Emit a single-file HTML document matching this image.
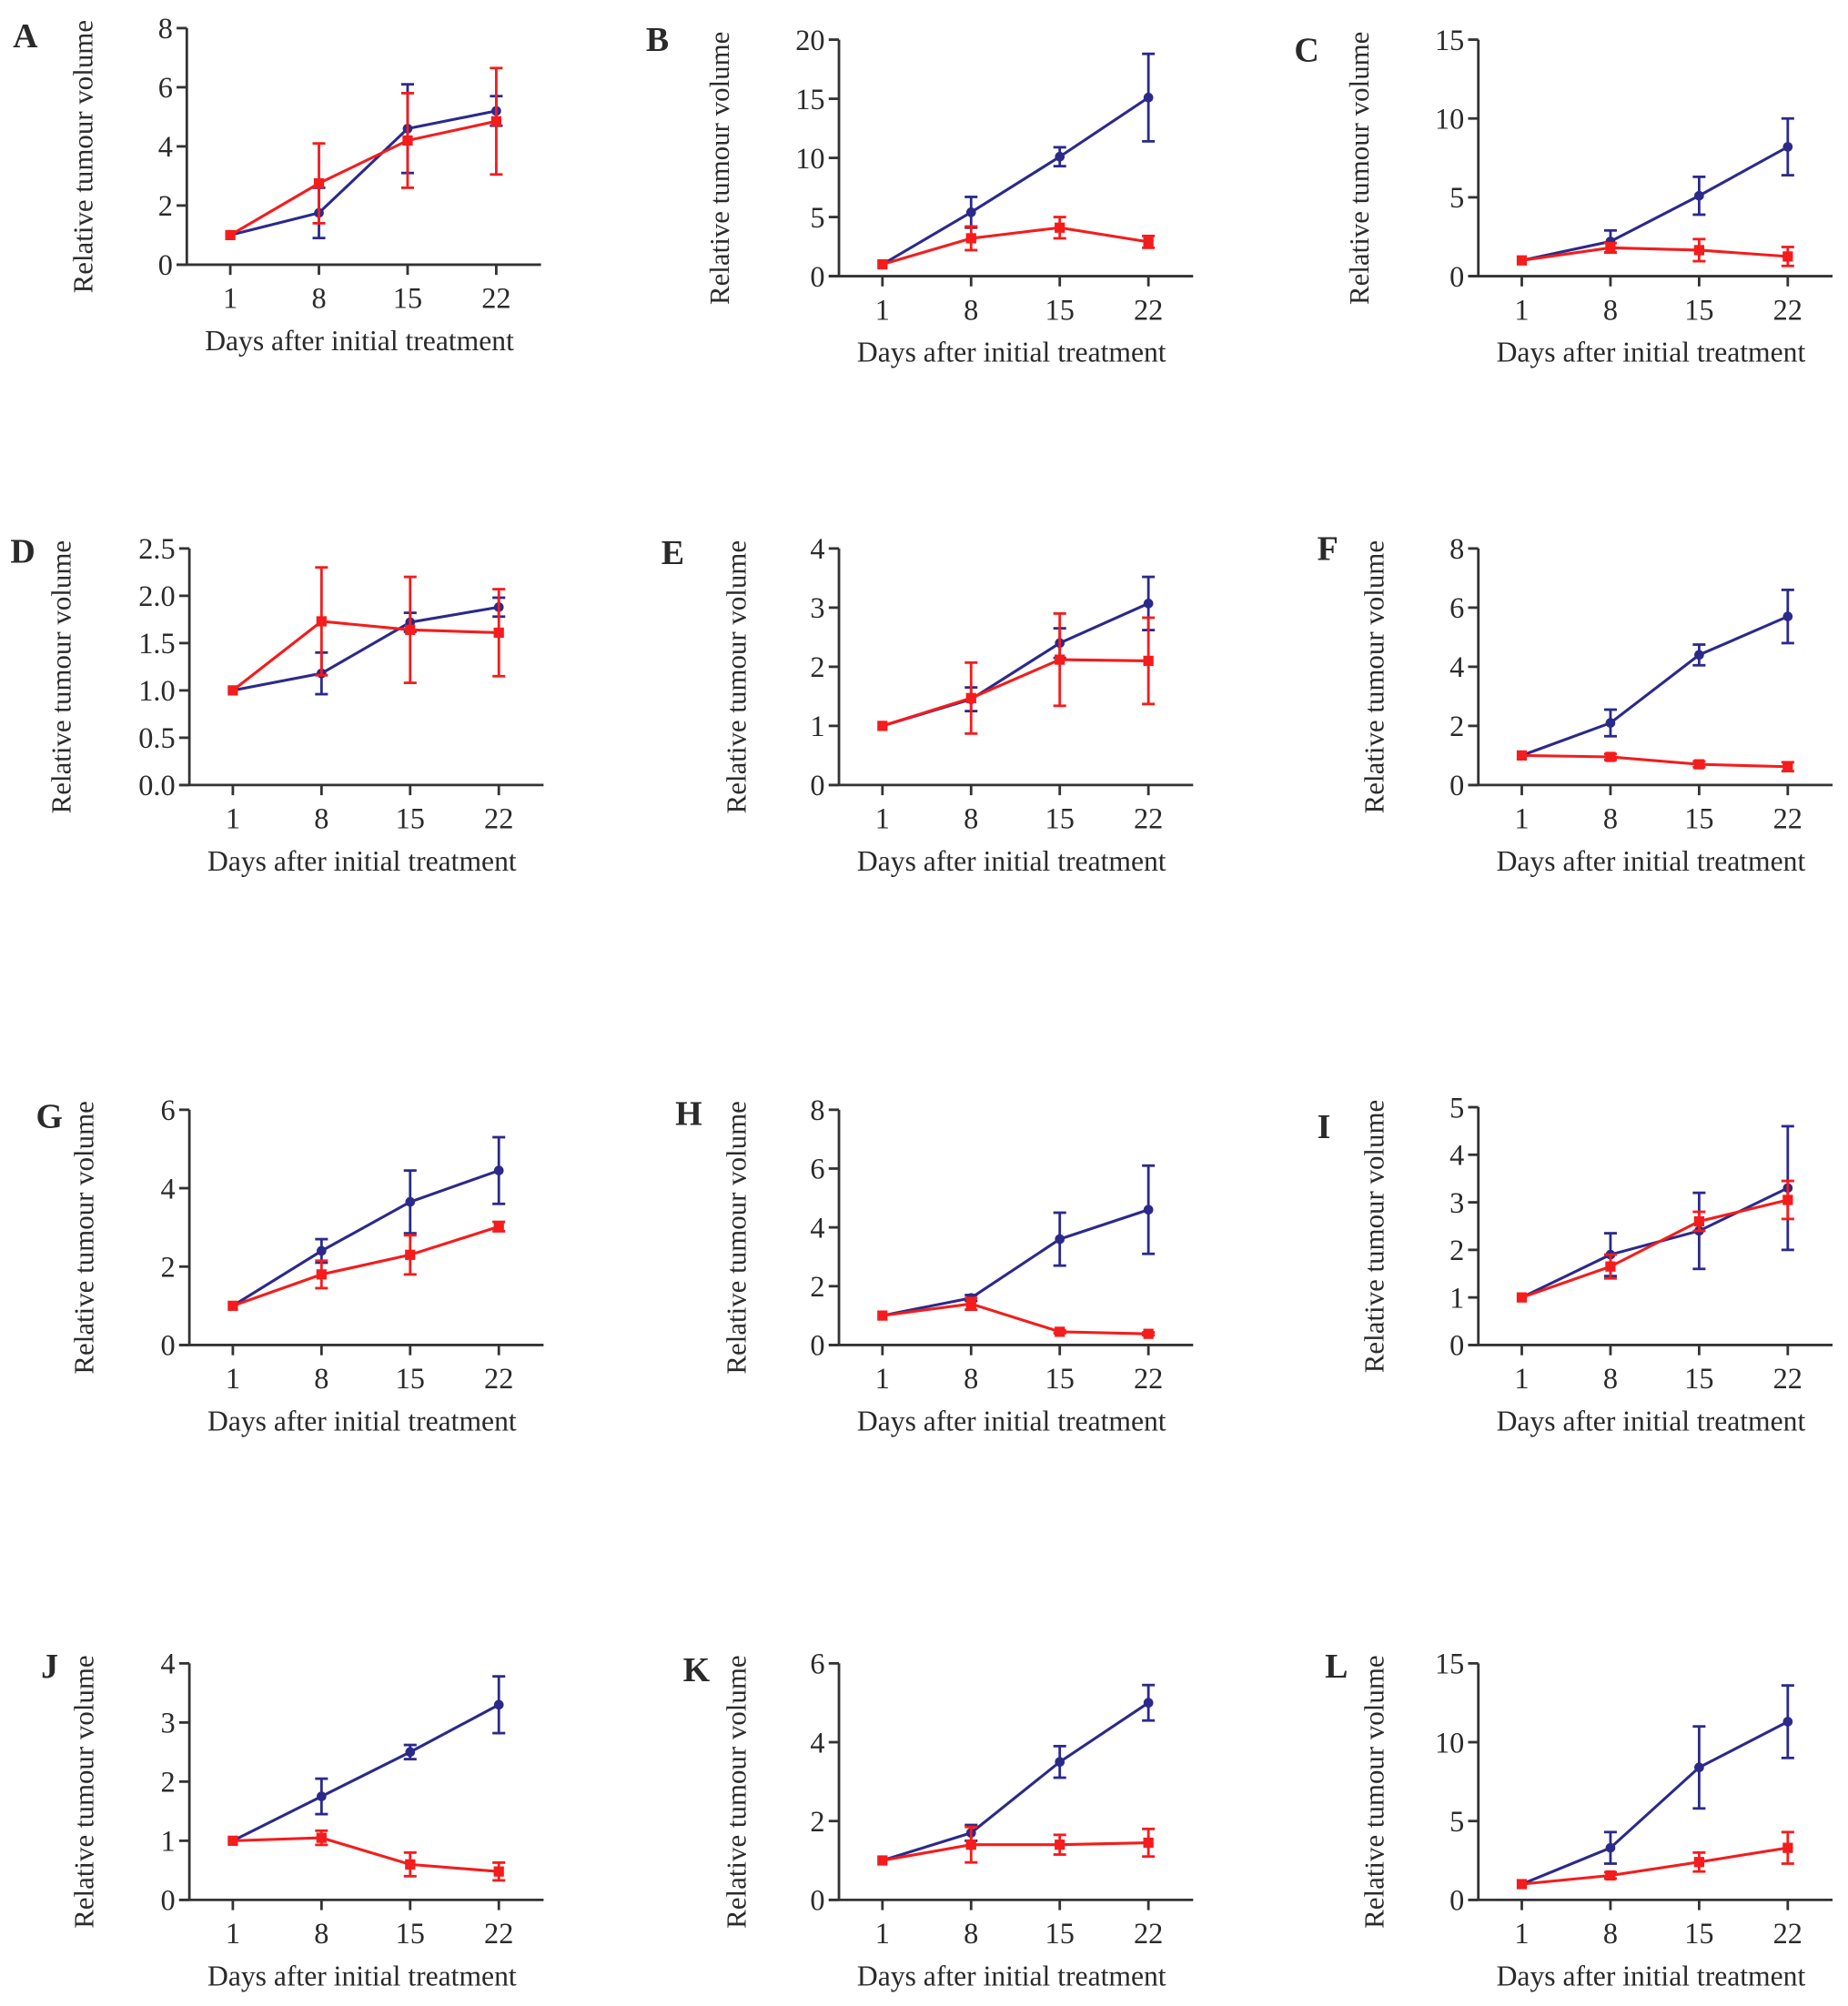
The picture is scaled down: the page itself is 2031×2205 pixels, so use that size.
<!DOCTYPE html>
<html><head><meta charset="utf-8"><style>
html,body{margin:0;padding:0;background:#fff;}
svg{display:block;}
text{font-family:"Liberation Serif",serif;fill:#2a2a2a;}
</style></head><body>
<svg id="fig" width="2031" height="2205" viewBox="0 0 1445 1569"></svg>
<script>
const days=[1,8,15,22];
const dayLabels=["1","8","15","22"];
const panelNames=["A","B","C","D","E","F","G","H","I","J","K","L"];
const yMaxes=[8,20,15,2.5,4,8,6,8,5,4,6,15];
const ySteps=[2,5,5,0.5,1,2,2,2,1,1,2,5];
const blueA=[1,1.75,4.6,5.2],blueErrA=[0,0.85,1.5,0.5],redA=[1,2.75,4.2,4.85],redErrA=[0,1.35,1.6,1.8];
const blueB=[1,5.4,10.1,15.1],blueErrB=[0,1.3,0.8,3.7],redB=[1,3.2,4.1,2.9],redErrB=[0,1,0.9,0.5];
const blueC=[1,2.2,5.1,8.2],blueErrC=[0,0.7,1.2,1.8],redC=[1,1.8,1.65,1.25],redErrC=[0,0.3,0.7,0.6];
const blueD=[1,1.18,1.72,1.88],blueErrD=[0,0.22,0.1,0.1],redD=[1,1.73,1.64,1.61],redErrD=[0,0.57,0.56,0.46];
const blueE=[1,1.45,2.4,3.07],blueErrE=[0,0.2,0.25,0.45],redE=[1,1.47,2.12,2.1],redErrE=[0,0.6,0.78,0.73];
const blueF=[1,2.1,4.4,5.7],blueErrF=[0,0.45,0.35,0.9],redF=[1,0.95,0.7,0.62],redErrF=[0,0.1,0.1,0.15];
const blueG=[1,2.4,3.65,4.45],blueErrG=[0,0.3,0.8,0.85],redG=[1,1.8,2.3,3.02],redErrG=[0,0.35,0.5,0.12];
const blueH=[1,1.6,3.6,4.6],blueErrH=[0,0.1,0.9,1.5],redH=[1,1.4,0.45,0.38],redErrH=[0,0.2,0.05,0.05];
const blueI=[1,1.9,2.4,3.3],blueErrI=[0,0.45,0.8,1.3],redI=[1,1.65,2.6,3.05],redErrI=[0,0.25,0.2,0.4];
const blueJ=[1,1.75,2.5,3.3],blueErrJ=[0,0.3,0.12,0.48],redJ=[1,1.05,0.6,0.48],redErrJ=[0,0.12,0.2,0.15];
const blueK=[1,1.7,3.5,5.0],blueErrK=[0,0.2,0.4,0.45],redK=[1,1.4,1.4,1.45],redErrK=[0,0.45,0.25,0.35];
const blueL=[1,3.3,8.4,11.3],blueErrL=[0,1,2.6,2.3],redL=[1,1.55,2.4,3.3],redErrL=[0,0.2,0.6,1.0];
const blues=[blueA,blueB,blueC,blueD,blueE,blueF,blueG,blueH,blueI,blueJ,blueK,blueL];
const blueErrs=[blueErrA,blueErrB,blueErrC,blueErrD,blueErrE,blueErrF,blueErrG,blueErrH,blueErrI,blueErrJ,blueErrK,blueErrL];
const reds=[redA,redB,redC,redD,redE,redF,redG,redH,redI,redJ,redK,redL];
const redErrs=[redErrA,redErrB,redErrC,redErrD,redErrE,redErrF,redErrG,redErrH,redErrI,redErrJ,redErrK,redErrL];

const layout=[
 {ax:146,top:22,bot:207,lx:10,ly:37,yl:72},
 {ax:656,top:31,bot:216,lx:505,ly:40,yl:570},
 {ax:1156,top:31,bot:216,lx:1012,ly:48,yl:1070},
 {ax:148,top:429,bot:614,lx:8,ly:440,yl:55},
 {ax:656,top:429,bot:614,lx:517,ly:441,yl:583},
 {ax:1156,top:429,bot:614,lx:1030,ly:438,yl:1082},
 {ax:148,top:868,bot:1052,lx:28,ly:882,yl:73},
 {ax:656,top:868,bot:1052,lx:528,ly:880,yl:583},
 {ax:1156,top:866,bot:1052,lx:1030,ly:890,yl:1082},
 {ax:148,top:1301,bot:1486,lx:32,ly:1312,yl:73},
 {ax:656,top:1301,bot:1486,lx:534,ly:1315,yl:583},
 {ax:1156,top:1301,bot:1486,lx:1036,ly:1312,yl:1082}
];
const NS="http://www.w3.org/2000/svg";
const svg=document.getElementById('fig');
function mk(tag,attrs,parent){const e=document.createElementNS(NS,tag);for(const k in attrs)e.setAttribute(k,attrs[k]);(parent||svg).appendChild(e);return e;}
const BLUE="#2b2a8a",RED="#f41c1c",AX="#333";
for(let p=0;p<12;p++){
 const L=layout[p];
 const g=mk('g',{});
 
 
 const x0=L.ax+34,x1=L.ax+242,right=L.ax+277;
 const xs=d=>x0+(d-1)/21*(x1-x0);
 const ys=v=>L.bot-v/yMaxes[p]*(L.bot-L.top);
 const lab=mk('text',{x:L.lx,y:L.ly,'font-size':27,'font-weight':'bold',fill:'#111'},g);lab.textContent=panelNames[p];
 
 
 const ya=mk('line',{x1:L.ax,y1:L.top,x2:L.ax,y2:L.bot,stroke:AX,'stroke-width':2},g);
 
 
 const xa=mk('line',{x1:L.ax-8,y1:L.bot,x2:right,y2:L.bot,stroke:AX,'stroke-width':2},g);
 
 
 const dec=ySteps[p]<1?1:0;
 for(let v=0;v<=yMaxes[p]+1e-9;v+=ySteps[p]){
  const y=ys(v);
  mk('line',{x1:L.ax-8,y1:y,x2:L.ax,y2:y,stroke:AX,'stroke-width':2},g);
  const t=mk('text',{x:L.ax-11,y:y+8,'font-size':23,'text-anchor':'end'},g);t.textContent=v.toFixed(dec);
  
  
 }
 days.forEach((d,i)=>{
  const x=xs(d);
  mk('line',{x1:x,y1:L.bot,x2:x,y2:L.bot+8,stroke:AX,'stroke-width':2},g);
  const t=mk('text',{x:x,y:L.bot+34,'font-size':23,'text-anchor':'middle'},g);t.textContent=dayLabels[i];
  
  
 });
 const xt=mk('text',{x:L.ax+135,y:L.bot+67,'font-size':22.5,'text-anchor':'middle'},g);xt.textContent='Days after initial treatment';
 
 
 const yc=(L.top+L.bot)/2+8;
 const yt=mk('text',{x:L.yl,y:yc,'font-size':22,'text-anchor':'middle',transform:`rotate(-90 ${L.yl} ${yc})`},g);yt.textContent='Relative tumour volume';
 
 
 [[blues[p],blueErrs[p],BLUE,'blue'],[reds[p],redErrs[p],RED,'red']].forEach(([vals,errs,col,nm])=>{
  const pts=vals.map((v,i)=>xs(days[i])+','+ys(v)).join(' ');
  const ln=mk('polyline',{points:pts,fill:'none',stroke:col,'stroke-width':2.2},g);
  
  
  vals.forEach((v,i)=>{
   const x=xs(days[i]);
   if(errs[i]>0){
    const yt2=ys(v+errs[i]),yb=ys(v-errs[i]);
    mk('line',{x1:x,y1:yt2,x2:x,y2:yb,stroke:col,'stroke-width':2},g);
    mk('line',{x1:x-5,y1:yt2,x2:x+5,y2:yt2,stroke:col,'stroke-width':2},g);
    mk('line',{x1:x-5,y1:yb,x2:x+5,y2:yb,stroke:col,'stroke-width':2},g);
   }
   let m;
   if(nm==='red'){m=mk('rect',{x:x-4,y:ys(v)-4,width:8,height:8,fill:col},g);}
   else{m=mk('circle',{cx:x,cy:ys(v),r:3.8,fill:col},g);}
   
   
  });
 });
}
</script>
</body></html>
